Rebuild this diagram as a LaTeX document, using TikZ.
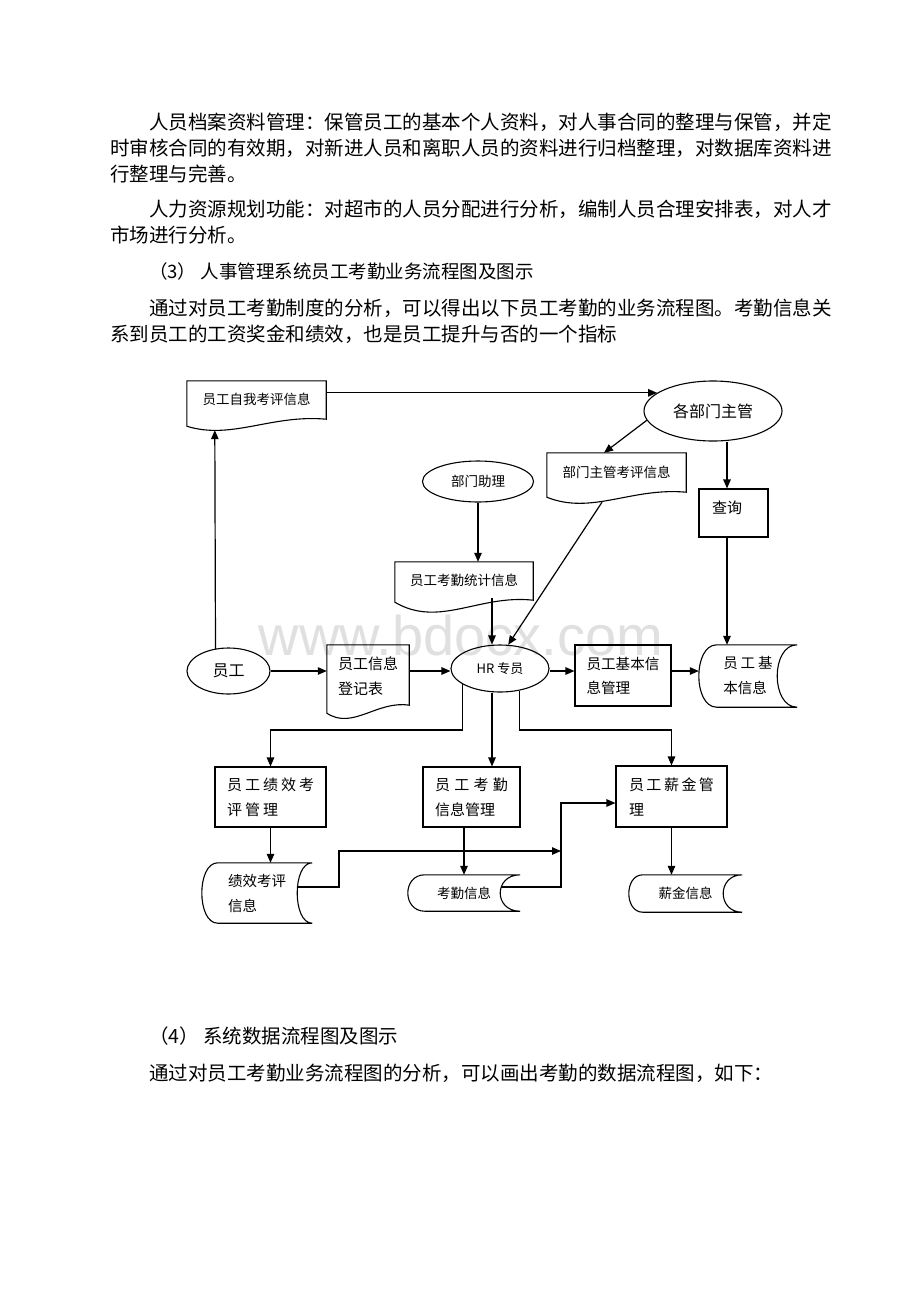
\documentclass[tikz,border=0pt]{standalone}
\usepackage{fontspec}
\setmainfont{Noto Sans CJK SC}
\newfontfamily\wmfont{Liberation Sans}
\usetikzlibrary{arrows.meta,shapes.geometric,calc}
\newcommand\docshape[5]{%
  \draw[shp] ($(#1.south west)+(0,#2)$) -- (#1.north west) -- (#1.north east) -- ($(#1.south east)+(0,#3)$) .. controls ($(#1.south)+#4$) and ($(#1.south)+#5$) .. cycle;
}
\newcommand\storeshape[3]{%
  \draw[shp] ($(#1.north west)+(#2,0)$) -- (#1.north east)
    .. controls ($(#1.north east)+(-1.333*#3,0)$) and ($(#1.south east)+(-1.333*#3,0)$) .. (#1.south east)
    -- ($(#1.south west)+(#2,0)$)
    .. controls ($(#1.south west)+(-0.333*#2,0)$) and ($(#1.north west)+(-0.333*#2,0)$) .. cycle;
}
\begin{document}
\begin{tikzpicture}[x=1pt,y=-1pt,
  body/.style={anchor=west, inner sep=0, font=\fontsize{19.5}{19.5}\selectfont},
  shp/.style={draw=black, line width=1.1pt},
  arr/.style={draw=black, line width=1.2pt, -{Triangle[length=9pt,width=7.5pt]}},
  box/.style={draw=black, line width=1.1pt, inner sep=0, align=left},
  ell/.style={draw=black, ellipse, line width=1.1pt, inner sep=0},
  plain/.style={inner sep=0, align=left},
  fnS/.style={font=\fontsize{13.5}{25}\selectfont},
  fnM/.style={font=\fontsize{15}{25}\selectfont}]
\fill[white] (0,0) rectangle (920,1302);
\useasboundingbox (0,0) rectangle (920,1302);

% watermark
\node[text=black!12, font=\wmfont\fontsize{56}{56}\selectfont, anchor=base, inner sep=0] (wm) at (461,655) {www.bdocx.com};

% body text
\node[body] (p1) at (149,122) {人员档案资料管理：保管员工的基本个人资料，对人事合同的整理与保管，并定};
\node[body] (p2) at (110,148) {时审核合同的有效期，对新进人员和离职人员的资料进行归档整理，对数据库资料进};
\node[body] (p3) at (110,174) {行整理与完善。};
\node[body] (p4) at (149,209) {人力资源规划功能：对超市的人员分配进行分析，编制人员合理安排表，对人才};
\node[body] (p5) at (110,235) {市场进行分析。};
\node[body, font=\fontsize{18.5}{18.5}\selectfont] (p6) at (149,271) {（3） 人事管理系统员工考勤业务流程图及图示};
\node[body] (p7) at (149,308) {通过对员工考勤制度的分析，可以得出以下员工考勤的业务流程图。考勤信息关};
\node[body] (p8) at (110,334) {系到员工的工资奖金和绩效，也是员工提升与否的一个指标};
\node[body] (p9) at (149,1036) {（4） 系统数据流程图及图示};
\node[body] (p10) at (149,1073) {通过对员工考勤业务流程图的分析，可以画出考勤的数据流程图，如下：};

% diagram nodes
\node[ell, minimum width=138, minimum height=60, font=\fontsize{16}{16}\selectfont] (gbm) at (713,411) {各部门主管};
\node[plain, minimum width=139, minimum height=36, fnS] (self) at (256.5,399) {员工自我考评信息};
\docshape{self}{9}{2}{(15,-3)}{(-25,23)}
\node[plain, minimum width=139, minimum height=38, fnS] (bmzg) at (616.5,472) {部门主管考评信息};
\docshape{bmzg}{6}{1}{(15,-4)}{(-25,24)}
\node[box, minimum width=69, minimum height=48, font=\fontsize{15}{15}\selectfont, text height=13.2pt, text depth=11.8pt] (cx) at (733.5,513) {查询\hspace{13pt}};
\node[ell, minimum width=111, minimum height=41, fnS] (bmzl) at (478,481.5) {部门助理};
\node[plain, minimum width=138, minimum height=36, fnS] (tj) at (464,580) {员工考勤统计信息};
\docshape{tj}{4}{2}{(15,-4)}{(-25,30)}
\node[ell, minimum width=83, minimum height=46, font=\fontsize{16}{16}\selectfont] (yg) at (228.5,671) {员工\hspace{8pt}};
\node[plain, minimum width=82, minimum height=63, fnM] (djb) at (368,676.5) {员工信息\\登记表};
\docshape{djb}{5}{-3}{(9,-8)}{(-15,22)}
\node[ell, minimum width=98, minimum height=47, font=\fontsize{13}{13}\selectfont] (hr) at (500,668.5) {HR 专员};
\node[box, minimum width=96, minimum height=61, font=\fontsize{14.6}{24}\selectfont] (jbgl) at (623,675.5) {员工基本信\\息管理};
\node[plain, minimum width=98, minimum height=62, font=\fontsize{14.5}{25}\selectfont] (jbxx) at (748,676) {员\kern3pt工\kern3pt基\\本信息};
\storeshape{jbxx}{18}{20}
\node[box, minimum width=111, minimum height=60, fnM] (jxgl) at (270.5,797) {员\kern3pt工\kern3pt绩\kern3pt效\kern3pt考\\评\kern3pt管\kern3pt理};
\node[box, minimum width=97, minimum height=60, fnM] (kqgl) at (471.5,797) {员\kern4.3pt工\kern4.3pt考\kern4.3pt勤\\信息管理};
\node[box, minimum width=111, minimum height=61, fnM] (xjgl) at (671.5,796.5) {员\kern2.5pt工\kern2.5pt薪\kern2.5pt金\kern2.5pt管\\理};
\node[plain, minimum width=110, minimum height=60, font=\fontsize{14.5}{25}\selectfont] (jxxx) at (257,893) {绩效考评\\信息};
\storeshape{jxxx}{16}{15}
\node[plain, minimum width=112, minimum height=36, fnS] (kqxx) at (464,893) {考勤信息};
\storeshape{kqxx}{17}{20}
\node[plain, minimum width=113, minimum height=37, fnS] (xjxx) at (685.5,893.5) {薪金信息};
\storeshape{xjxx}{14}{19}

% connectors
\coordinate (bus) at (0,730);
\coordinate (vx) at (561,851);
\coordinate (k1) at (339,851);
\draw[arr] (self.east |- gbm.162) -- (gbm.162);
\draw[arr] (gbm.188) -- ($(bmzg.north)+(-12.5,0)$);
\coordinate (cxl) at ($(cx.north)+(-6.5,0)$);
\draw[arr] (cxl |- gbm.south) -- (cxl);
\draw[arr] (cxl |- cx.south) -- (cxl |- jbxx.north);
\draw[arr] (bmzl.south) -- (bmzl.south |- tj.north);
\coordinate (hrt) at ($(hr.north)+(-8,0)$);
\draw[arr] (hrt |- tj.south) -- (hrt);
\draw[arr] ($(bmzg.south)+(-14.5,11)$) -- (hr.71);
\draw[arr] ($(yg.center)+(-13,-21.8)$) -- ($(self.south west)+(28,13)$);
\draw[arr] (yg.east) -- (yg.east -| djb.west);
\draw[arr] (djb.east |- yg.east) -- (hr.west |- yg.east);
\draw[arr] (hr.east |- yg.east) -- (jbgl.west |- yg.east);
\draw[arr] (jbgl.east |- yg.east) -- (jbxx.west |- yg.east);
\draw[arr] (hr.203) -- (hr.203 |- bus) -| (jxgl.north);
\coordinate (hrb) at ($(hr.south)+(-8,0)$);
\draw[arr] (hrb) -- (hrb |- kqgl.north);
\draw[arr] (hr.311) -- (hr.311 |- bus) -| (xjgl.north);
\draw[arr] (jxgl.south) -- (jxgl.south |- jxxx.north);
\draw[arr] (kqxx.north |- kqgl.south) -- (kqxx.north);
\draw[arr] (xjgl.south) -- (xjgl.south |- xjxx.north);
\draw[arr] ($(jxxx.east)+(-15,-6)$) -| (k1) -- (vx);
\coordinate (j2) at ($(xjgl.west)+(0,6.5)$);
\draw[arr] ($(kqxx.east)+(-19,-6)$) -| (vx |- j2) -- (j2);
\end{tikzpicture}
\end{document}
